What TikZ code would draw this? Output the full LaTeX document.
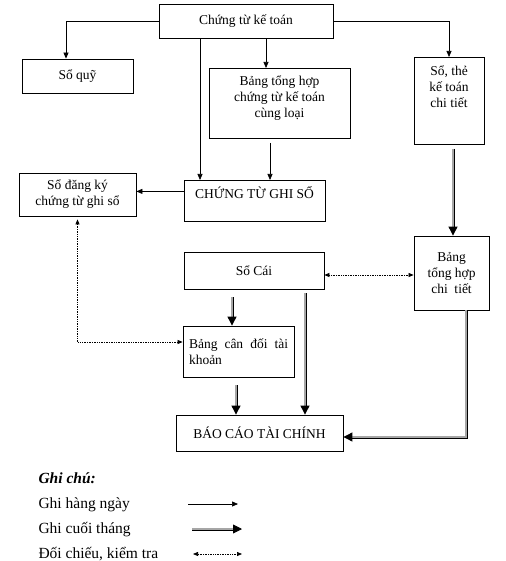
\documentclass[tikz,border=0pt]{standalone}
\usepackage{fontspec}
\setmainfont{Liberation Serif}
\usetikzlibrary{arrows.meta}

\begin{document}
\begin{tikzpicture}[x=1pt, y=-1pt,
  font=\fontsize{13.5}{16}\selectfont,
  box/.style={draw, line width=0.8pt, inner sep=0pt, align=center},
  daily/.style={-{Triangle[length=6pt,width=5pt]}, line width=0.7pt},
  monthly/.style={-{Triangle[length=9pt,width=9pt]}, double=gray!70, double distance=1.2pt, line width=0.9pt},
  check/.style={{Triangle[length=5pt,width=4pt]}-{Triangle[length=5pt,width=4pt]}, densely dotted, line width=0.7pt},
]
  \useasboundingbox (0,0) rectangle (505,561);

  % boxes
  \node[box, minimum width=174pt, minimum height=34pt] (ctkt) at (246,21) {Chứng từ kế toán};
  \node[box, minimum width=111pt, minimum height=34pt] (soquy) at (77.5,76) {Sổ quỹ};
  \node[box, minimum width=141pt, text height=49pt, text depth=21pt, anchor=north] (bangth) at (279.5,68) {Bảng tổng hợp\\chứng từ kế toán\\cùng loại};
  \node[box, minimum width=70pt, text height=50pt, text depth=37pt, anchor=north] (sochitiet) at (449,57) {Sổ, thẻ\\kế toán\\chi tiết};
  \node[box, minimum width=141pt, text height=18pt, text depth=23pt, anchor=north] (ctgs) at (254.5,180) {CHỨNG TỪ GHI SỔ};
  \node[box, minimum width=117pt, minimum height=43pt] (sodangky) at (77.5,194.5) {Sổ đăng ký\\chứng từ ghi sổ};
  \node[box, minimum width=140pt, minimum height=37pt] (socai) at (254,270.5) {Sổ Cái};
  \node[box, minimum width=75pt, minimum height=74pt] (bangct) at (451.5,273) {Bảng\\tổng hợp\\chi\ \ tiết};
  \node[box, minimum width=111pt, minimum height=51pt] (bangcd) at (238.5,351.5) {\parbox{99pt}{Bảng cân đối tài\linebreak khoản}};
  \node[box, minimum width=167pt, minimum height=36pt] (bctc) at (259.5,433) {BÁO CÁO TÀI CHÍNH};

  % daily
  \draw[daily] (ctkt.west) -| ([xshift=-11.5pt]soquy.north);
  \draw[daily] (ctkt.east) -| (sochitiet.north);
  \draw[daily] ([xshift=-46pt]ctkt.south) -- ([xshift=-46pt]ctkt.south |- ctgs.north);
  \draw[daily] ([xshift=20pt]ctkt.south) -- ([xshift=20pt]ctkt.south |- bangth.north);
  \draw[daily, shorten <=4pt] ([xshift=-9.5pt]bangth.south) -- ([xshift=-9.5pt]bangth.south |- ctgs.north);
  \draw[daily] ([yshift=9.5pt]ctgs.west) -- ([yshift=9.5pt]ctgs.west -| sodangky.east);

  % monthly
  \draw[monthly, shorten <=4pt] ([xshift=4pt]sochitiet.south) -- ([xshift=4pt]sochitiet.south |- bangct.north);
  \draw[monthly, shorten <=8pt] ([xshift=-6.5pt]bangcd.north |- socai.south) -- ([xshift=-6.5pt]bangcd.north);
  \draw[monthly, shorten <=4pt] ([xshift=51pt]socai.south) -- ([xshift=51pt]socai.south |- bctc.north);
  \draw[monthly, shorten <=8pt] ([xshift=-2.5pt]bangcd.south) -- ([xshift=-2.5pt]bangcd.south |- bctc.north);
  \draw[monthly] ([xshift=14.5pt]bangct.south) |- ([yshift=-4pt]bctc.east);

  % check
  \draw[check] ([yshift=-4.5pt]socai.east) -- ([yshift=-4.5pt]socai.east -| bangct.west);
  \draw[check, shorten >=3pt] ([yshift=9.5pt]bangcd.west) -| (sodangky.south);

  % legend
  \node[anchor=base west, font=\fontsize{15.5}{18}\selectfont\bfseries\itshape] (ghichu) at (35,483) {Ghi chú:};
  \foreach \i/\txt/\sty/\y/\xa/\xb in {1/Ghi hàng ngày/daily/508/188/238, 2/Ghi cuối tháng/monthly/533/192/242, 3/{Đối chiếu, kiểm tra}/check/558/193/242} {
    \node[anchor=base west, font=\fontsize{15.5}{18}\selectfont] (lg\i) at (35,\y) {\txt};
    \coordinate (la\i) at (\xa,\y-4);
    \coordinate (lb\i) at (\xb,\y-4);
    \draw[\sty] (la\i) -- (lb\i);
  }
\end{tikzpicture}
\end{document}
